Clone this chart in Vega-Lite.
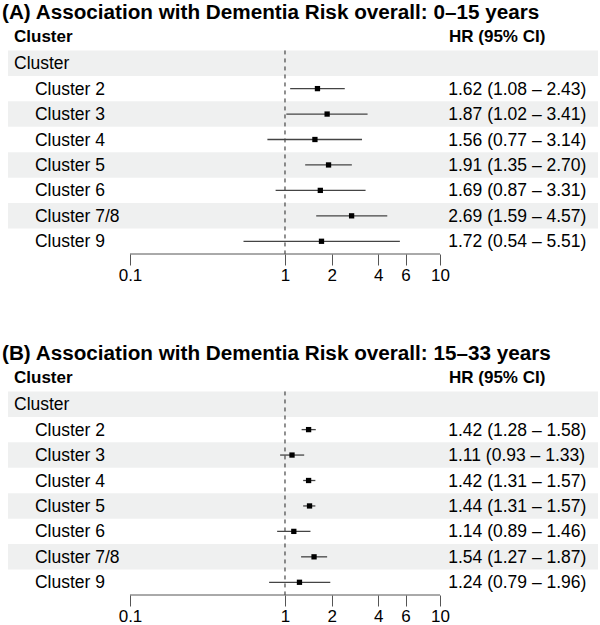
{
  "$schema": "https://vega.github.io/schema/vega-lite/v6.json",
  "padding": {"left": 2, "right": 2, "top": 1, "bottom": 0},
  "background": "white",
  "spacing": 58,
  "config": {
    "font": "Liberation Sans",
    "view": {"stroke": null},
    "title": {"anchor": "start", "fontSize": 20.7, "fontWeight": "bold", "color": "#000000", "baseline": "alphabetic", "offset": 1.5, "dx": -6, "font": "Liberation Sans"},
    "text": {"font": "Liberation Sans", "fontSize": 17.5, "color": "#000000"}
  },
  "datasets": {
    "A": [
      {"row": "Cluster"},
      {"row": "Cluster 2", "hr": 1.62, "lo": 1.08, "hi": 2.43, "ci": "1.62 (1.08 – 2.43)"},
      {"row": "Cluster 3", "hr": 1.87, "lo": 1.02, "hi": 3.41, "ci": "1.87 (1.02 – 3.41)"},
      {"row": "Cluster 4", "hr": 1.56, "lo": 0.77, "hi": 3.14, "ci": "1.56 (0.77 – 3.14)"},
      {"row": "Cluster 5", "hr": 1.91, "lo": 1.35, "hi": 2.70, "ci": "1.91 (1.35 – 2.70)"},
      {"row": "Cluster 6", "hr": 1.69, "lo": 0.87, "hi": 3.31, "ci": "1.69 (0.87 – 3.31)"},
      {"row": "Cluster 7/8", "hr": 2.69, "lo": 1.59, "hi": 4.57, "ci": "2.69 (1.59 – 4.57)"},
      {"row": "Cluster 9", "hr": 1.72, "lo": 0.54, "hi": 5.51, "ci": "1.72 (0.54 – 5.51)"}
    ],
    "B": [
      {"row": "Cluster"},
      {"row": "Cluster 2", "hr": 1.42, "lo": 1.28, "hi": 1.58, "ci": "1.42 (1.28 – 1.58)"},
      {"row": "Cluster 3", "hr": 1.11, "lo": 0.93, "hi": 1.33, "ci": "1.11 (0.93 – 1.33)"},
      {"row": "Cluster 4", "hr": 1.42, "lo": 1.31, "hi": 1.57, "ci": "1.42 (1.31 – 1.57)"},
      {"row": "Cluster 5", "hr": 1.44, "lo": 1.31, "hi": 1.57, "ci": "1.44 (1.31 – 1.57)"},
      {"row": "Cluster 6", "hr": 1.14, "lo": 0.89, "hi": 1.46, "ci": "1.14 (0.89 – 1.46)"},
      {"row": "Cluster 7/8", "hr": 1.54, "lo": 1.27, "hi": 1.87, "ci": "1.54 (1.27 – 1.87)"},
      {"row": "Cluster 9", "hr": 1.24, "lo": 0.79, "hi": 1.96, "ci": "1.24 (0.79 – 1.96)"}
    ]
  },
  "vconcat": [
    {
      "title": "(A) Association with Dementia Risk overall: 0–15 years",
      "width": 590,
      "height": 229,
      "data": {"name": "A"},
      "layer": [
        {
          "transform": [{"filter": {"field": "row", "oneOf": ["Cluster", "Cluster 3", "Cluster 5", "Cluster 7/8"]}}],
          "mark": {"type": "rect", "color": "#eff0f0"},
          "encoding": {
            "y": {"field": "row", "type": "nominal", "axis": null, "scale": {"domain": ["header", "Cluster", "Cluster 2", "Cluster 3", "Cluster 4", "Cluster 5", "Cluster 6", "Cluster 7/8", "Cluster 9"], "paddingInner": 0, "paddingOuter": 0}},
            "x": {"datum": 0.01633, "type": "quantitative", "scale": {"type": "log", "domain": [0.01633, 104.57], "nice": false},
                  "axis": {"title": null, "domain": false, "values": [0.1, 1, 2, 4, 6, 10], "format": "~g", "tickSize": 11, "tickColor": "#555555", "tickWidth": 1, "labelFontSize": 17, "labelColor": "#000000", "labelPadding": 2.5, "labelFont": "Liberation Sans", "grid": false, "labelFlush": false, "labelOverlap": false}},
            "x2": {"datum": 104.57}
          }
        },
        {
          "data": {"values": [{}]},
          "mark": {"type": "rule", "strokeDash": [4, 4], "color": "#222222", "strokeWidth": 1},
          "encoding": {
            "x": {"datum": 1, "type": "quantitative"},
            "y": {"datum": "Cluster", "type": "nominal", "bandPosition": 0},
            "y2": {"value": "height"}
          }
        },
        {
          "data": {"values": [{}]},
          "mark": {"type": "rule", "color": "#555555", "strokeWidth": 1},
          "encoding": {
            "x": {"datum": 0.1, "type": "quantitative"},
            "x2": {"datum": 10},
            "y": {"value": "height"}
          }
        },
        {
          "mark": {"type": "rule", "color": "#444444", "strokeWidth": 1.3},
          "encoding": {
            "y": {"field": "row", "type": "nominal"},
            "x": {"field": "lo", "type": "quantitative"},
            "x2": {"field": "hi"}
          }
        },
        {
          "mark": {"type": "square", "color": "#000000", "filled": true, "size": 28, "opacity": 1},
          "encoding": {
            "y": {"field": "row", "type": "nominal"},
            "x": {"field": "hr", "type": "quantitative"}
          }
        },
        {
          "transform": [{"filter": "datum.row === 'Cluster'"}],
          "mark": {"type": "text", "align": "left", "baseline": "middle", "dy": 1},
          "encoding": {
            "y": {"field": "row", "type": "nominal"},
            "x": {"datum": 0.01785, "type": "quantitative"},
            "text": {"field": "row"}
          }
        },
        {
          "transform": [{"filter": "datum.row !== 'Cluster'"}],
          "mark": {"type": "text", "align": "left", "baseline": "middle", "dy": 1},
          "encoding": {
            "y": {"field": "row", "type": "nominal"},
            "x": {"datum": 0.02438, "type": "quantitative"},
            "text": {"field": "row"}
          }
        },
        {
          "transform": [{"filter": "datum.row !== 'Cluster'"}],
          "mark": {"type": "text", "align": "left", "baseline": "middle", "dy": 1},
          "encoding": {
            "y": {"field": "row", "type": "nominal"},
            "x": {"datum": 11.3, "type": "quantitative"},
            "text": {"field": "ci"}
          }
        },
        {
          "data": {"values": [{}]},
          "mark": {"type": "text", "align": "left", "baseline": "middle", "dy": -1, "fontWeight": "bold", "fontSize": 17, "text": "Cluster"},
          "encoding": {
            "y": {"datum": "header", "type": "nominal"},
            "x": {"datum": 0.01785, "type": "quantitative"}
          }
        },
        {
          "data": {"values": [{}]},
          "mark": {"type": "text", "align": "left", "baseline": "middle", "dy": -1, "fontWeight": "bold", "fontSize": 17, "text": "HR (95% CI)"},
          "encoding": {
            "y": {"datum": "header", "type": "nominal"},
            "x": {"datum": 11.43, "type": "quantitative"}
          }
        }
      ]
    },
    {
      "title": "(B) Association with Dementia Risk overall: 15–33 years",
      "width": 590,
      "height": 229,
      "data": {"name": "B"},
      "layer": [
        {
          "transform": [{"filter": {"field": "row", "oneOf": ["Cluster", "Cluster 3", "Cluster 5", "Cluster 7/8"]}}],
          "mark": {"type": "rect", "color": "#eff0f0"},
          "encoding": {
            "y": {"field": "row", "type": "nominal", "axis": null, "scale": {"domain": ["header", "Cluster", "Cluster 2", "Cluster 3", "Cluster 4", "Cluster 5", "Cluster 6", "Cluster 7/8", "Cluster 9"], "paddingInner": 0, "paddingOuter": 0}},
            "x": {"datum": 0.01633, "type": "quantitative", "scale": {"type": "log", "domain": [0.01633, 104.57], "nice": false},
                  "axis": {"title": null, "domain": false, "values": [0.1, 1, 2, 4, 6, 10], "format": "~g", "tickSize": 11, "tickColor": "#555555", "tickWidth": 1, "labelFontSize": 17, "labelColor": "#000000", "labelPadding": 2.5, "labelFont": "Liberation Sans", "grid": false, "labelFlush": false, "labelOverlap": false}},
            "x2": {"datum": 104.57}
          }
        },
        {
          "data": {"values": [{}]},
          "mark": {"type": "rule", "strokeDash": [4, 4], "color": "#222222", "strokeWidth": 1},
          "encoding": {
            "x": {"datum": 1, "type": "quantitative"},
            "y": {"datum": "Cluster", "type": "nominal", "bandPosition": 0},
            "y2": {"value": "height"}
          }
        },
        {
          "data": {"values": [{}]},
          "mark": {"type": "rule", "color": "#555555", "strokeWidth": 1},
          "encoding": {
            "x": {"datum": 0.1, "type": "quantitative"},
            "x2": {"datum": 10},
            "y": {"value": "height"}
          }
        },
        {
          "mark": {"type": "rule", "color": "#444444", "strokeWidth": 1.3},
          "encoding": {
            "y": {"field": "row", "type": "nominal"},
            "x": {"field": "lo", "type": "quantitative"},
            "x2": {"field": "hi"}
          }
        },
        {
          "mark": {"type": "square", "color": "#000000", "filled": true, "size": 28, "opacity": 1},
          "encoding": {
            "y": {"field": "row", "type": "nominal"},
            "x": {"field": "hr", "type": "quantitative"}
          }
        },
        {
          "transform": [{"filter": "datum.row === 'Cluster'"}],
          "mark": {"type": "text", "align": "left", "baseline": "middle", "dy": 1},
          "encoding": {
            "y": {"field": "row", "type": "nominal"},
            "x": {"datum": 0.01785, "type": "quantitative"},
            "text": {"field": "row"}
          }
        },
        {
          "transform": [{"filter": "datum.row !== 'Cluster'"}],
          "mark": {"type": "text", "align": "left", "baseline": "middle", "dy": 1},
          "encoding": {
            "y": {"field": "row", "type": "nominal"},
            "x": {"datum": 0.02438, "type": "quantitative"},
            "text": {"field": "row"}
          }
        },
        {
          "transform": [{"filter": "datum.row !== 'Cluster'"}],
          "mark": {"type": "text", "align": "left", "baseline": "middle", "dy": 1},
          "encoding": {
            "y": {"field": "row", "type": "nominal"},
            "x": {"datum": 11.3, "type": "quantitative"},
            "text": {"field": "ci"}
          }
        },
        {
          "data": {"values": [{}]},
          "mark": {"type": "text", "align": "left", "baseline": "middle", "dy": -1, "fontWeight": "bold", "fontSize": 17, "text": "Cluster"},
          "encoding": {
            "y": {"datum": "header", "type": "nominal"},
            "x": {"datum": 0.01785, "type": "quantitative"}
          }
        },
        {
          "data": {"values": [{}]},
          "mark": {"type": "text", "align": "left", "baseline": "middle", "dy": -1, "fontWeight": "bold", "fontSize": 17, "text": "HR (95% CI)"},
          "encoding": {
            "y": {"datum": "header", "type": "nominal"},
            "x": {"datum": 11.43, "type": "quantitative"}
          }
        }
      ]
    }
  ]
}
